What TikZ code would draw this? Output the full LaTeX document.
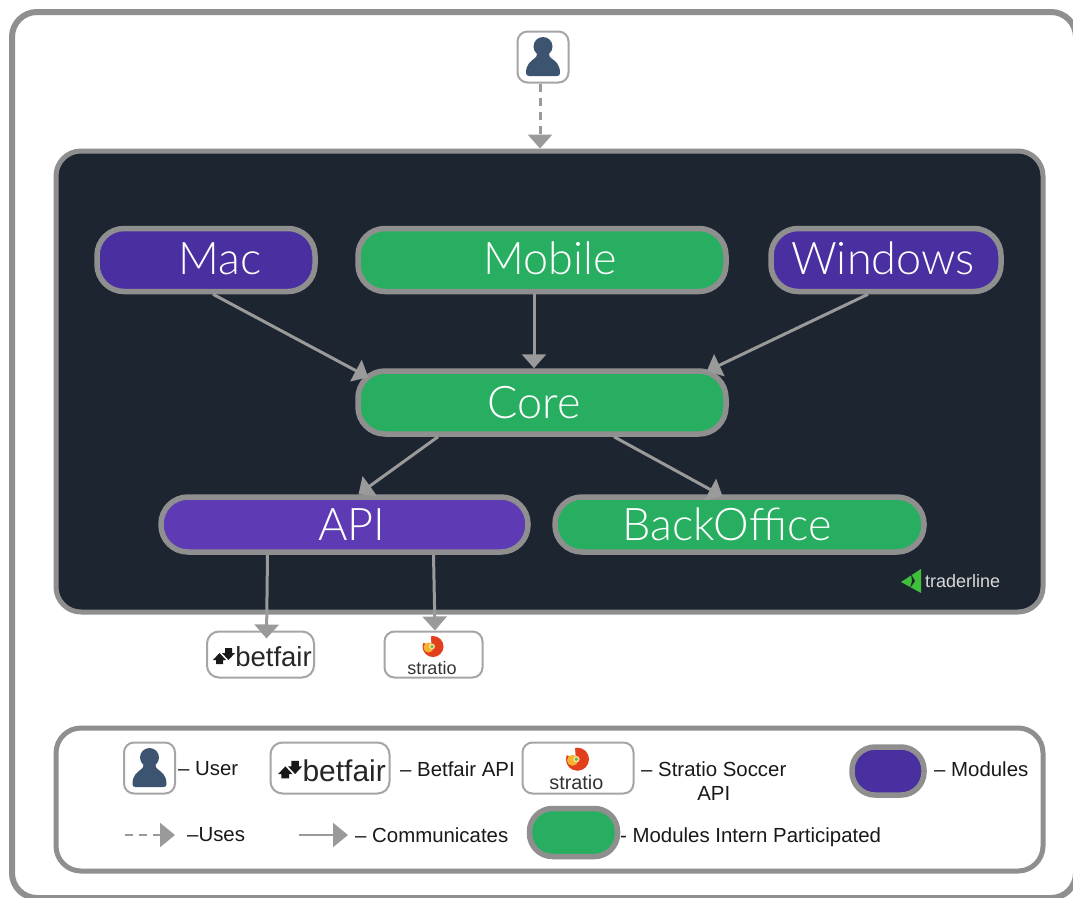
\documentclass[tikz,border=0pt]{standalone}
\usepackage{fontspec}
\usepackage{xcolor}
\usepackage{tikz}
\usetikzlibrary{arrows.meta}
\usetikzlibrary{positioning}
\setmainfont{Liberation Sans}
\newfontfamily\lightfont{Lato}[UprightFont=* Light]
\definecolor{frameGray}{HTML}{8F8F8F}
\definecolor{arrowGray}{HTML}{9A9A9A}
\definecolor{panelDark}{HTML}{1C2530}
\definecolor{moduleBlue}{HTML}{4A2FA0}
\definecolor{apiBlue}{HTML}{5E3BB5}
\definecolor{moduleGreen}{HTML}{27AE60}
\definecolor{userBlue}{HTML}{3D5470}
\definecolor{swirlRed}{HTML}{E2401C}
\definecolor{swirlYellow}{HTML}{F5B32E}
\definecolor{logoGreen}{HTML}{3FBF3A}
\tikzset{frame-box/.style={draw=frameGray, inner sep=0, rounded corners=25pt}}
\tikzset{module-node/.style={draw=frameGray, line width=5.5pt, inner sep=0, rounded corners=27pt, text=white, font=\lightfont\fontsize{45}{45}\selectfont}}
\tikzset{logo-box/.style={draw=frameGray!80, line width=2pt, fill=white, inner sep=0, rounded corners=10pt}}
\tikzset{legend-text/.style={anchor=west, inner sep=0, font=\fontsize{20.4}{24}\selectfont, text=black!90}}
\tikzset{link-line/.style={draw=arrowGray, line width=3pt, -{Triangle[length=14pt, width=24pt, fill=arrowGray]}}}
\tikzset{legend-line/.style={draw=arrowGray, line width=2.5pt, -{Triangle[length=15pt, width=24pt, fill=arrowGray]}}}
\tikzset{use-dash/.style={dash pattern=on 8pt off 6pt}}
\newcommand{\usericon}[3] {
    \node[logo-box, minimum width=51pt, minimum height=51pt] (#1) at (#2,#3) {};
    \begin{scope}[shift={(#2,#3)}]
        \fill[userBlue] (0,-10.5) circle (9.5pt);
        \fill[userBlue] (-17,16) .. controls (-17,7) and (-12,4) .. (-8,1) .. controls (-7,0) and (-6,-1) .. (-6,-3) -- (6,-3)
            .. controls (6,-1) and (7,0) .. (8,1) .. controls (12,4) and (17,7) .. (17,16) .. controls (17,18) and (16,19) .. (14,19)
            -- (-14,19) .. controls (-16,19) and (-17,18) .. (-17,16) -- cycle;
    \end{scope}
}
\newcommand{\betfairlogo}[6] {
    \node[logo-box, rounded corners=12pt, minimum width=#4pt, minimum height=#5pt] (#1) at (#2,#3) {};
    \begin{scope}[shift={(#2,#3)}, scale=#6, every node/.style={transform shape}]
        \node[inner sep=0, text=black!85, font=\fontsize{27.5}{27.5}\selectfont] (#1text) at (13,2.5) {betfair};
        \fill[black!90] (-47.5,5.5) -- (-41,-1.5) -- (-34.5,5.5) -- (-37.5,5.5) -- (-37.5,9.5) -- (-44.5,9.5) -- (-44.5,5.5) -- cycle;
        \fill[black!90] (-38.5,-1.5) -- (-35.5,-1.5) -- (-35.5,-6.5) -- (-28.5,-6.5) -- (-28.5,-1.5) -- (-25.5,-1.5) -- (-32,5.5) -- cycle;
    \end{scope}
}
\newcommand{\stratiologo}[6] {
    \node[logo-box, minimum width=#4pt, minimum height=#5pt] (#1) at (#2,#3) {};
    \begin{scope}[shift={(#2,#3)}, scale=#6, every node/.style={transform shape}]
        \fill[swirlRed] (-0.5,-8) circle (10.5pt);
        \fill[white] (-2,-9) -- (-3,-20) -- (-14,-20) -- (-14,-13) -- cycle;
        \fill[swirlYellow] (-5,-7) circle (5pt);
        \fill[swirlYellow!50] (-1.5,-8) circle (3pt);
        \fill[logoGreen] (-1.5,-8) circle (1.5pt);
        \node[inner sep=0, text=black!80, font=\fontsize{18}{18}\selectfont] (#1text) at (-1.5,13.5) {stratio};
    \end{scope}
}
\begin{document}
\begin{tikzpicture}[x=1pt, y=-1pt]
    \useasboundingbox (0,0) rectangle (1073,897);
    \clip (0,0) rectangle (1073,897);
    \fill[white] (0,0) rectangle (1073,897);
    \node[frame-box, line width=6pt, minimum width=1064pt, minimum height=886pt] (frame) at (544,455) {};

    \node[frame-box, line width=5pt, fill=panelDark, minimum width=987pt, minimum height=461pt] (panel) at (549.5,381.5) {};
    \usericon{user}{543}{57}

    \node[module-node, fill=moduleBlue, minimum width=218pt, minimum height=63pt] (mac) at (206,260) {\hspace*{28pt}\raisebox{3pt}{Mac}};
    \node[module-node, fill=moduleGreen, minimum width=368pt, minimum height=63pt] (mobile) at (542,260) {\hspace*{16pt}\raisebox{3pt}{Mobile}};
    \node[module-node, fill=moduleBlue, minimum width=230pt, minimum height=63pt] (windows) at (886,260) {\hspace{-6pt}\raisebox{3pt}{Windows}};
    \node[module-node, fill=moduleGreen, minimum width=368pt, minimum height=63pt] (core) at (542,402.5) {\hspace{-16pt}Core};
    \node[module-node, fill=apiBlue, minimum width=367pt, minimum height=55pt] (api) at (344.5,524.5) {\hspace*{15pt}API};
    \node[module-node, fill=moduleGreen, minimum width=369pt, minimum height=55pt] (backoffice) at (739.5,524.5) {\hspace{-25pt}BackOffice};

    \betfairlogo{betfair}{260.5}{654.5}{107}{46}{1}
    \stratiologo{stratio}{433.5}{654.5}{98}{46}{1}

    \draw[link-line, use-dash] ([xshift=-3pt]user.south) -- ([xshift=-9.5pt]panel.north);
    \draw[link-line] ([xshift=7pt]mac.south) -- ([xshift=13pt, yshift=-9pt]core.north west);
    \draw[link-line] ([xshift=-8pt]mobile.south) -- ([xshift=-8pt]core.north);
    \draw[link-line] ([xshift=-18pt]windows.south) -- ([xshift=-22pt, yshift=-3pt]core.north east);
    \draw[link-line] ([xshift=-104pt]core.south) -- ([xshift=14pt]api.north);
    \draw[link-line] ([xshift=72pt]core.south) -- ([xshift=-17pt, yshift=-2pt]backoffice.north);
    \draw[link-line] ([xshift=-77pt]api.south) -- ([xshift=6pt, yshift=-8pt]betfair.north);
    \draw[link-line] ([xshift=89pt]api.south) -- ([xshift=1.5pt]stratio.north);

    % traderline mark
    \fill[logoGreen] (901,582) -- (921,569) -- (921,593) -- cycle;
    \fill[panelDark] (911,574) -- (915,581) -- (910,588) -- (912,581) -- cycle;
    \node[anchor=west, inner sep=0, text=black!15, font=\fontsize{18}{18}\selectfont] (traderline) at (925,581) {traderline};

    % legend
    \node[frame-box, line width=5pt, fill=white, minimum width=987pt, minimum height=143pt] (legend) at (549.5,799.5) {};
    \usericon{legenduser}{149.5}{768}
    \node[legend-text] (usertext) at (178,769) {– User};
    \betfairlogo{legendbetfair}{330}{768}{119}{51}{1.09}
    \node[legend-text] (betfairtext) at (400,769) {– Betfair API};
    \stratiologo{legendstratio}{578}{768}{111}{51}{1.1}
    \node[legend-text, align=center] (stratiotext) at (641,781) {– Stratio Soccer\\API};
    \node[module-node, rounded corners=23pt, fill=moduleBlue, minimum width=72pt, minimum height=48pt] (legendmodule) at (888,771) {};
    \node[legend-text] (moduletext) at (934,769) {– Modules};

    \coordinate (usesstart) at (125,835);
    \coordinate (usesend) at (175,835);
    \draw[legend-line, use-dash] (usesstart) -- (usesend);
    \node[legend-text] (usestext) at (187,835) {–Uses};
    \coordinate (commstart) at (299,835);
    \coordinate (commend) at (348,835);
    \draw[legend-line] (commstart) -- (commend);
    \node[legend-text] (commtext) at (355,835) {– Communicates};
    \node[module-node, rounded corners=23pt, fill=moduleGreen, minimum width=88pt, minimum height=48pt] (legendintern) at (573.5,832.5) {};
    \node[legend-text] (interntext) at (620,837) {- Modules Intern Participated};
\end{tikzpicture}
\end{document}
